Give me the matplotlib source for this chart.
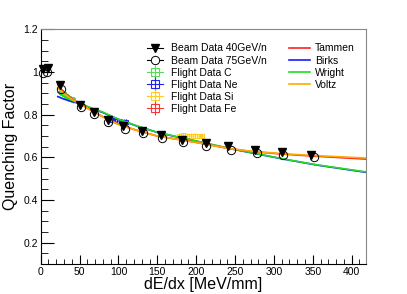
import matplotlib
matplotlib.use("Agg")
from matplotlib import pyplot as plt
from matplotlib.lines import Line2D
from matplotlib.ticker import MultipleLocator

plt.rcParams['font.family'] = ['Liberation Sans', 'DejaVu Sans']

# beam test points
beam40_x = [3, 9, 25, 50, 68, 86, 106, 130, 155, 182, 212, 241, 276, 311, 348]
beam40_y = [1.015, 1.02, 0.94, 0.845, 0.815, 0.775, 0.745, 0.722, 0.703, 0.683, 0.667, 0.651, 0.633, 0.623, 0.613]
beam75_x = [3, 8, 26, 52, 68, 87, 108, 131, 156, 183, 213, 245, 278, 312, 351]
beam75_y = [0.995, 1.0, 0.92, 0.834, 0.803, 0.765, 0.734, 0.712, 0.692, 0.670, 0.651, 0.636, 0.620, 0.613, 0.600]

# flight data clusters
c_x = [26, 28, 30, 32, 34, 36, 38, 40, 42]
c_y = [0.905, 0.90, 0.895, 0.89, 0.885, 0.88, 0.876, 0.872, 0.868]
ne_x = [92, 95, 98, 101, 104, 107, 110]
ne_y = [0.774, 0.773, 0.771, 0.770, 0.768, 0.767, 0.766]
si_x = [178, 183, 188, 193, 198, 203, 208]
si_y = [0.702, 0.703, 0.702, 0.701, 0.700, 0.699, 0.698]
fe_x = []
fe_y = []

# fitted models, read at sample points
fit_x = [22, 30, 40, 50, 65, 80, 100, 125, 150, 175, 200, 243, 270, 312, 355, 418]
tammen = [0.94, 0.905, 0.875, 0.852, 0.82, 0.79, 0.755, 0.725, 0.70, 0.685, 0.67, 0.641, 0.628, 0.615, 0.605, 0.592]
voltz = [0.925, 0.90, 0.872, 0.852, 0.82, 0.79, 0.755, 0.725, 0.70, 0.685, 0.67, 0.641, 0.629, 0.617, 0.608, 0.597]
birks = [0.885, 0.873, 0.862, 0.852, 0.83, 0.81, 0.778, 0.745, 0.717, 0.696, 0.676, 0.641, 0.622, 0.592, 0.564, 0.530]
wright = [0.905, 0.885, 0.868, 0.854, 0.832, 0.812, 0.779, 0.746, 0.718, 0.697, 0.677, 0.642, 0.623, 0.593, 0.565, 0.532]

yticks = [0.2, 0.4, 0.6, 0.8, 1.0, 1.2]
ylabels = ['0.2', '0.4', '0.6', '0.8', '1', '1.2']
xticks = [0, 50, 100, 150, 200, 250, 300, 350, 400]

col_c = '#55dd55'
col_ne = '#2222ee'
col_si = '#ffcc22'
col_fe = '#ff3333'

fig = plt.figure(figsize=(4.07, 2.94), dpi=100)
ax = fig.add_axes([0.1, 0.102, 0.7985, 0.798])

for fx, fy, col in [(c_x, c_y, col_c), (ne_x, ne_y, col_ne), (si_x, si_y, col_si)]:
    ax.errorbar(fx, fy, yerr=0.012, xerr=1.0, fmt='s', ms=3.5, mfc='none',
                mec=col, ecolor=col, elinewidth=0.8, mew=0.8, zorder=2)

ax.plot(fit_x, birks, color='#1a1aff', lw=1.2, zorder=3)
ax.plot(fit_x, wright, color='#22dd22', lw=1.2, zorder=3)
ax.plot(fit_x, tammen, color='#ff2020', lw=1.2, zorder=3)
ax.plot(fit_x, voltz, color='#ffaa00', lw=1.2, zorder=3)

ax.plot(beam40_x, beam40_y, 'v', color='black', ms=5.5, ls='none', clip_on=False, zorder=4)
ax.plot(beam75_x, beam75_y, 'o', mfc='none', mec='black', mew=0.7, ms=6, ls='none',
        clip_on=False, zorder=4)

ax.set_xlim(0, 418)
ax.set_ylim(0.1, 1.2)
ax.set_xticks(xticks)
ax.set_yticks(yticks)
ax.set_yticklabels(ylabels)
ax.xaxis.set_minor_locator(MultipleLocator(10))
ax.yaxis.set_minor_locator(MultipleLocator(0.05))
ax.tick_params(which='both', direction='in', top=False, right=False, labelsize=7.5, pad=2)
ax.tick_params(axis='x', which='major', length=6.5)
ax.tick_params(axis='x', which='minor', length=3.4)
ax.tick_params(axis='y', which='major', length=9)
ax.tick_params(axis='y', which='minor', length=5)
for s in ['top', 'right']:
    ax.spines[s].set_color('#888888')
    ax.spines[s].set_linewidth(0.8)

ax.set_xlabel('dE/dx [MeV/mm]', fontsize=11.5, labelpad=0)
ax.set_ylabel('Quenching Factor', fontsize=11.5, labelpad=4)


def flight_handle(col):
    return (Line2D([], [], color=col, marker='s', mfc='none', ms=6, lw=0.8, mew=0.8),
            Line2D([], [], color=col, marker='|', ms=10, lw=0, mew=0.8))


h1 = [Line2D([], [], color='black', marker='v', ms=5.5, lw=0.8),
      Line2D([], [], color='black', marker='o', mfc='white', ms=6, lw=0.8, mew=0.7),
      flight_handle(col_c), flight_handle(col_ne), flight_handle(col_si), flight_handle(col_fe)]
l1 = ['Beam Data 40GeV/n', 'Beam Data 75GeV/n', 'Flight Data C', 'Flight Data Ne',
      'Flight Data Si', 'Flight Data Fe']
leg1 = ax.legend(h1, l1, loc='upper left', bbox_to_anchor=(0.327, 0.94), frameon=False,
                 fontsize=7.5, handlelength=1.55, handletextpad=0.75, labelspacing=0.2,
                 borderpad=0, borderaxespad=0)
ax.add_artist(leg1)

h2 = [Line2D([], [], color='#ff2020', lw=1.2), Line2D([], [], color='#1a1aff', lw=1.2),
      Line2D([], [], color='#22dd22', lw=1.2), Line2D([], [], color='#ffaa00', lw=1.2)]
l2 = ['Tammen', 'Birks', 'Wright', 'Voltz']
ax.legend(h2, l2, loc='upper left', bbox_to_anchor=(0.764, 0.94), frameon=False,
          fontsize=7.5, handlelength=2.0, handletextpad=0.5, labelspacing=0.2,
          borderpad=0, borderaxespad=0)

fig.savefig('out.png', dpi=100)
